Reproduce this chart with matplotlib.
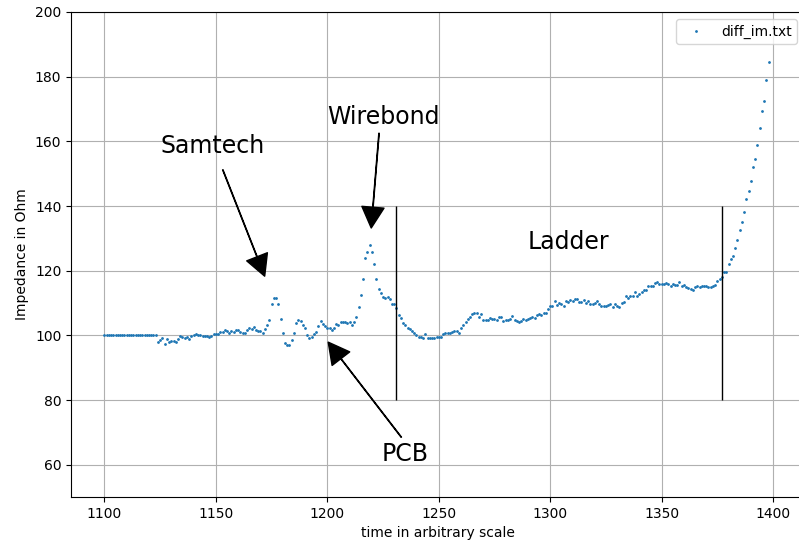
import matplotlib
matplotlib.use('Agg')
import matplotlib.pyplot as plt
import numpy as np

# impedance, one value per time step starting at 1100
t0 = 1100
impedance = [
    100, 100, 100, 100, 100, 100, 100, 100, 100, 100, 100, 100,
    100, 100, 100, 100, 100, 100, 100, 100, 100, 100, 100, 100,
    98.0, 98.6, 99.3, 97.4, 98.8, 97.8, 98.3, 98.3, 97.8, 99.0, 99.8, 99.5,
    99.3, 99.5, 98.8, 99.8, 100.1, 100.3, 100.1, 100.2, 99.9, 99.8, 99.7, 99.6,
    99.8, 100.3, 100.5, 100.4, 101.1, 101.0, 101.6, 101.3, 100.8, 101.3, 101.1, 101.6,
    101.8, 101.0, 100.7, 100.8, 101.8, 102.4, 102.1, 102.6, 101.8, 101.5, 101.5, 100.8,
    102.0, 103.2, 104.9, 109.8, 111.4, 111.4, 109.6, 105.2, 100.8, 97.7, 96.9, 96.9,
    98.6, 100.6, 103.9, 104.7, 104.5, 103.1, 102.2, 100.2, 99.3, 99.6, 100.3, 101.0,
    102.9, 104.3, 103.4, 102.9, 102.4, 102.4, 101.8, 102.3, 103.4, 103.2, 104.2, 104.1,
    104.1, 103.7, 104.1, 103.2, 104.1, 105.8, 108.7, 112.6, 117.3, 123.8, 125.8, 128.0,
    125.8, 122.1, 117.3, 114.4, 113.2, 111.9, 111.4, 111.9, 111.1, 109.6, 109.8, 108.4,
    106.2, 105.5, 103.7, 103.1, 102.4, 102.1, 101.3, 100.6, 100.0, 99.6, 99.6, 99.2,
    100.3, 99.2, 99.2, 99.2, 99.2, 99.5, 99.6, 99.6, 100.5, 100.8, 100.8, 100.8,
    101.0, 101.2, 101.5, 100.6, 102.4, 103.1, 104.1, 105.1, 105.8, 106.5, 107.0, 107.0,
    105.8, 106.7, 104.9, 104.9, 104.7, 105.5, 105.1, 105.1, 104.9, 105.6, 105.6, 104.4,
    104.7, 104.9, 105.1, 105.9, 104.7, 104.4, 104.1, 104.4, 105.1, 104.7, 105.1, 105.5,
    105.8, 105.5, 106.2, 106.5, 106.2, 107.0, 107.0, 108.0, 109.0, 109.2, 110.6, 109.5,
    110.1, 109.8, 109.2, 110.5, 110.2, 110.8, 110.5, 111.1, 111.1, 110.2, 110.2, 110.8,
    110.0, 110.5, 109.8, 109.8, 110.0, 110.7, 109.8, 109.2, 109.2, 109.2, 109.4, 109.6,
    108.8, 109.6, 109.0, 108.8, 110.0, 110.2, 112.3, 111.6, 112.1, 112.3, 113.3, 112.3,
    112.9, 113.3, 114.1, 114.1, 115.2, 115.4, 115.4, 116.2, 116.4, 115.8, 116.0, 116.0,
    116.2, 116.0, 115.4, 115.9, 115.7, 115.5, 116.4, 115.4, 115.7, 115.0, 114.7, 114.4,
    114.0, 115.0, 115.4, 115.0, 115.2, 115.4, 115.3, 114.9, 115.1, 115.4, 115.6, 116.9,
    117.4, 117.9, 119.7, 119.7, 122.1, 123.5, 124.5, 127.1, 129.5, 132.5, 135.1, 138.2,
    142.3, 144.6, 147.7, 152.1, 154.6, 159.0, 164.1, 169.5, 172.6, 179.1, 184.6,
]
time = np.arange(t0, t0 + len(impedance))

# section boundaries
boundaries = [1230.6, 1377]

# labels: (text, text pos, arrow tail, arrow tip)
labels = ['Samtech', 'Wirebond', 'PCB']
label_pos = [(1148.5, 158.6), (1225, 167.5), (1235, 63.3)]
arrow_tail = [(1153.1, 151.2), (1223.2, 162.5), (1233.2, 68.5)]
arrow_tip = [(1171.9, 118.3), (1219.7, 133.2), (1200.4, 97.9)]

fig = plt.figure(figsize=(7.99, 5.45), dpi=100)
ax = fig.add_axes([0.089, 0.088, 0.9175, 0.89])

ax.plot(time, impedance, '.', color='#1f77b4', markersize=2, label='diff_im.txt')
ax.vlines(boundaries, 80, 140, color='black', linewidth=1)

arrow = dict(facecolor='black', width=0.3, headwidth=16, headlength=15, shrink=0)
for txt, pos, tail, tip in zip(labels, label_pos, arrow_tail, arrow_tip):
    ax.text(pos[0], pos[1], txt, fontsize=17, ha='center', va='center')
    ax.annotate('', xy=tip, xytext=tail, arrowprops=arrow)
ax.text(1308, 129, 'Ladder', fontsize=17, ha='center', va='center')

ax.set_xlim(1085.05, 1413.95)
ax.set_ylim(50, 200)
ax.set_xlabel('time in arbitrary scale')
ax.set_ylabel('Impedance in Ohm')
ax.grid(True)
ax.legend(loc='upper right')

fig.savefig('out.png', dpi=100)
